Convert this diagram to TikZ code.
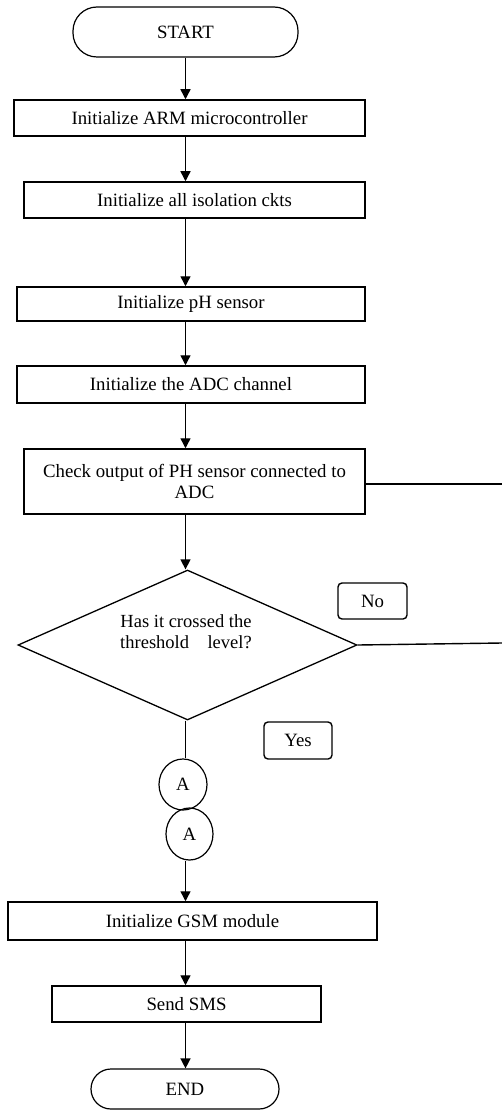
\documentclass[tikz,border=0pt]{standalone}
\usepackage{fontspec}
\setmainfont{Liberation Serif}
\usetikzlibrary{shapes.geometric,arrows.meta}
\begin{document}
\begin{tikzpicture}[x=1pt,y=-1pt,
  every node/.style={font=\fontsize{18.8}{21}\selectfont, inner sep=0pt},
  box/.style={draw, line width=1.5pt, rectangle},
  term/.style={draw, line width=1.2pt, rectangle},
  lbl/.style={draw, line width=1.4pt, rectangle, rounded corners=4pt},
  conn/.style={draw, line width=1.2pt, ellipse},
  arr/.style={line width=1.4pt, -{Triangle[length=10pt,width=10pt]}},
  ln/.style={line width=1.4pt}]
\useasboundingbox (0,0) rectangle (502,1110);
\node[term, rounded corners=24pt, minimum width=225pt, minimum height=50pt] (start) at (185.5,32) {START};
\node[box, minimum width=351pt, minimum height=36pt] (b1) at (189.5,118) {Initialize ARM microcontroller};
\node[box, minimum width=341pt, minimum height=36pt] (b2) at (194.5,200) {Initialize all isolation ckts};
\node[box, minimum width=348pt, minimum height=34pt] (b3) at (191,304) {Initialize pH sensor};
\node[box, minimum width=348pt, minimum height=37pt] (b4) at (191,384.5) {Initialize the ADC channel};
\node[box, minimum width=341pt, minimum height=65pt, align=center] (b5) at (194.5,481.5) {Check output of PH sensor connected to\\ADC};
\node[draw, line width=1.3pt, diamond, minimum width=339pt, minimum height=150pt] (dec) at (187.5,645) {};
\node[align=center, font=\fontsize{18.5}{21}\selectfont] (dectxt) at (186,632) {Has it crossed the\\threshold\ \ \ \ level?};
\node[lbl, minimum width=69pt, minimum height=36pt] (no) at (372.5,601) {No\hspace{10pt}};
\node[lbl, minimum width=68pt, minimum height=37pt] (yes) at (298,740.5) {Yes\hspace{4pt}};
\node[conn, minimum width=48pt, minimum height=51pt] (a1) at (183,784.5) {A};
\node[conn, minimum width=47pt, minimum height=52pt] (a2) at (189.5,834) {A};
\node[box, minimum width=369pt, minimum height=38pt] (gsm) at (192.5,921) {Initialize GSM module};
\node[box, minimum width=269pt, minimum height=36pt] (sms) at (186.5,1004) {Send SMS};
\node[term, rounded corners=20pt, minimum width=188pt, minimum height=40pt] (end) at (185,1089) {END};
\coordinate (r1) at (502,484);
\coordinate (r2) at (502,643);
\draw[arr] (start.south) -- (start.south |- b1.north);
\draw[arr] (b1.south -| start) -- (b2.north -| start);
\draw[arr] (b2.south -| start) -- (b3.north -| start);
\draw[arr] (b3.south -| start) -- (b4.north -| start);
\draw[arr] (b4.south -| start) -- (b5.north -| start);
\draw[arr] (b5.south -| start) -- (dec.north -| start);
\draw[ln] (dec.south -| start) -- (a1.north -| start);
\draw[arr] (a2.south -| start) -- (gsm.north -| start);
\draw[arr] (gsm.south -| start) -- (sms.north -| start);
\draw[arr] (sms.south -| start) -- (end.north -| start);
\draw[ln] (b5.east |- r1) -- (r1);
\draw[ln] (dec.east) -- (r2);
\end{tikzpicture}
\end{document}
